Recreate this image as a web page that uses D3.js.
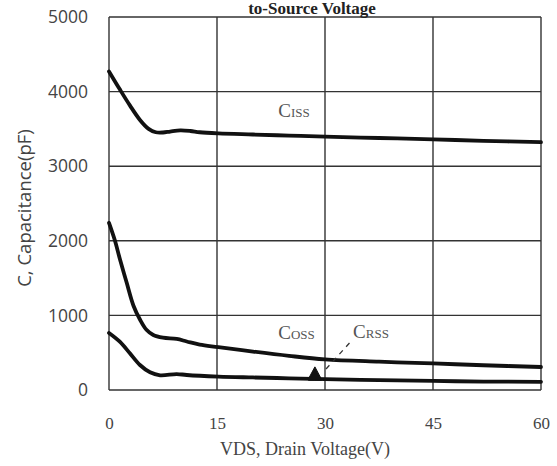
<!DOCTYPE html>
<html>
<head>
<meta charset="utf-8">
<script src="https://cdn.jsdelivr.net/npm/d3@7"></script>
<style>
  html, body { margin: 0; padding: 0; background: #fff; }
  svg { display: block; }
</style>
</head>
<body>
<svg id="chart" width="557" height="466"></svg>
<script>
// ---- data ----
const titleText = "to-Source Voltage";
const xLabel = "VDS, Drain Voltage(V)";
const yLabel = "C, Capacitance(pF)";
const xTicks = [0, 15, 30, 45, 60];
const yTicks = [0, 1000, 2000, 3000, 4000, 5000];

const cissV = [0, 1.5, 2.9, 4.3, 5.5, 6.5, 7.5, 8.5, 9.9, 11.3, 12.6, 15.2, 20, 25, 30, 37.5, 45, 52, 60];
const cissC = [4270, 4030, 3815, 3620, 3500, 3455, 3452, 3465, 3480, 3472, 3455, 3440, 3425, 3410, 3396, 3378, 3360, 3340, 3322];

const cossV = [0, 0.8, 1.5, 2.45, 3.4, 4.3, 5.2, 6.15, 7.5, 9.4, 10.8, 12.6, 15.2, 20, 25, 30, 37.5, 45, 52, 60];
const cossC = [2240, 2010, 1760, 1440, 1130, 945, 808, 738, 702, 684, 650, 608, 575, 515, 458, 411, 380, 356, 332, 308];

const crssV = [0, 1.5, 2.9, 4.3, 5.7, 7.1, 9.4, 10.8, 15.2, 20, 25, 30, 37.5, 45, 52, 60];
const crssC = [765, 648, 492, 335, 237, 197, 214, 201, 180, 168, 157, 145, 132, 121, 113, 110];

// small triangular blip on the Crss curve
const blipV = [27.7, 28.6, 29.5];
const blipC = [150, 310, 146];

const seriesNames = ["C", "C", "C"];
const seriesSubs = ["ISS", "OSS", "RSS"];
const labelV = [23.5, 23.5, 33.9];
const labelC = [3665, 690, 695];
const leaderV = [33.4, 29.9];
const leaderC = [630, 255];

// ---- layout ----
const svg = d3.select("#chart");
const margin = {left: 109, right: 16, top: 17, bottom: 76};
const W = 557, H = 466;
const x = d3.scaleLinear().domain([0, 60]).range([margin.left, W - margin.right]);
const y = d3.scaleLinear().domain([0, 5000]).range([H - margin.bottom, margin.top]);

const gridColor = "#333";

// grid lines
svg.append("g").selectAll("line").data(xTicks).join("line")
  .attr("x1", d => x(d)).attr("x2", d => x(d))
  .attr("y1", y(0)).attr("y2", y(5000))
  .attr("stroke", gridColor).attr("stroke-width", 1.4);
svg.append("g").selectAll("line").data(yTicks).join("line")
  .attr("x1", x(0)).attr("x2", x(60))
  .attr("y1", d => y(d)).attr("y2", d => y(d))
  .attr("stroke", gridColor).attr("stroke-width", 1.4);

// axes (labels only, no domain)
const xAxis = svg.append("g").attr("transform", `translate(0,${y(0)})`)
  .call(d3.axisBottom(x).tickValues(xTicks).tickSize(0).tickPadding(27).tickFormat(d3.format("d")));
xAxis.select(".domain").remove();
xAxis.selectAll("text").attr("font-family", "'Liberation Serif', serif").attr("font-size", 17).attr("fill", "#444");

const yAxis = svg.append("g").attr("transform", `translate(${x(0)},0)`)
  .call(d3.axisLeft(y).tickValues(yTicks).tickSize(0).tickPadding(21).tickFormat(d3.format("d")));
yAxis.select(".domain").remove();
yAxis.selectAll("text").attr("font-family", "'Open Sans', sans-serif").attr("font-size", 17.5).attr("fill", "#444");

// lines
const line = d3.line().x(d => x(d[0])).y(d => y(d[1])).curve(d3.curveCatmullRom.alpha(0.5));
const series = [
  d3.zip(cissV, cissC),
  d3.zip(cossV, cossC),
  d3.zip(crssV, crssC)
];
svg.append("g").selectAll("path").data(series).join("path")
  .attr("d", line)
  .attr("fill", "none").attr("stroke", "#111").attr("stroke-width", 3.8)
  .attr("stroke-linejoin", "round").attr("stroke-linecap", "round");

// blip as a small filled triangle on the Crss line
const blipArea = d3.area().x(d => x(d[0])).y0(y(130)).y1(d => y(d[1]));
svg.append("path").datum(d3.zip(blipV, blipC)).attr("d", blipArea)
  .attr("fill", "#111").attr("stroke", "#111").attr("stroke-width", 1).attr("stroke-linejoin", "round");

// series labels
const lab = svg.append("g");
seriesNames.forEach((n, i) => {
  const t = lab.append("text")
    .attr("x", x(labelV[i])).attr("y", y(labelC[i]))
    .attr("font-family", "'Liberation Serif', serif").attr("fill", "#555");
  t.append("tspan").attr("font-size", 19).text(n);
  t.append("tspan").attr("font-size", 13).text(seriesSubs[i]);
});

// dashed leader for Crss
svg.append("line")
  .attr("x1", x(leaderV[0])).attr("y1", y(leaderC[0]))
  .attr("x2", x(leaderV[1])).attr("y2", y(leaderC[1]))
  .attr("stroke", "#333").attr("stroke-width", 1.3).attr("stroke-dasharray", "5,5");

// title (at the very top edge)
svg.append("text").attr("x", 312).attr("y", 14).attr("text-anchor", "middle")
  .attr("font-family", "'Liberation Serif', serif").attr("font-weight", "bold")
  .attr("font-size", 17).attr("fill", "#222").text(titleText);

// axis titles
svg.append("text").attr("x", 305).attr("y", 455).attr("text-anchor", "middle")
  .attr("font-family", "'Liberation Serif', serif").attr("font-size", 18).attr("fill", "#444")
  .text(xLabel);
svg.append("text").attr("transform", `translate(31,208) rotate(-90)`).attr("text-anchor", "middle")
  .attr("font-family", "'Open Sans', sans-serif").attr("font-size", 18.5).attr("fill", "#444")
  .text(yLabel);
</script>
</body>
</html>
